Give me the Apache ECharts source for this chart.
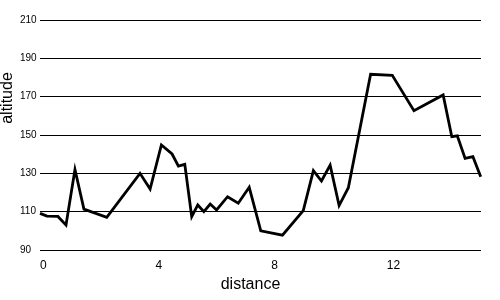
<!DOCTYPE html>
<html>
<head>
<meta charset="utf-8">
<script src="https://cdn.jsdelivr.net/npm/echarts@6/dist/echarts.min.js"></script>
<style>html,body{margin:0;padding:0;background:#fff}#c{width:500px;height:300px}</style>
</head>
<body>
<div id="c"></div>
<script>
var distance = [0, 0.24, 0.62, 0.90, 1.21, 1.52, 2.31, 3.46, 3.81, 4.20, 4.57, 4.79, 5.01, 5.25, 5.46, 5.67, 5.89, 6.11, 6.49, 6.86, 7.24, 7.64, 8.39, 9.11, 9.46, 9.74, 10.04, 10.35, 10.67, 11.44, 12.19, 12.94, 13.95, 14.25, 14.44, 14.71, 14.98, 15.25];
var altitude = [109.1, 107.7, 107.5, 103, 132, 111.3, 107.1, 130, 121.8, 144.8, 140.1, 133.8, 134.7, 107.4, 113.5, 110, 114, 110.9, 117.8, 114.4, 122.7, 100, 97.7, 110.5, 131.4, 126, 134.3, 113.2, 122.5, 181.7, 181.1, 162.7, 170.9, 149.1, 149.6, 137.8, 138.7, 128.2];
var xTicks = [0, 4, 8, 12];
var yTicks = [90, 110, 130, 150, 170, 190, 210];

var pts = distance.map(function (d, i) { return [d, altitude[i]]; });
var font = 'Liberation Sans, Arial, sans-serif';
var chart = echarts.init(document.getElementById('c'), null, {renderer: 'canvas'});
chart.setOption({
  animation: false,
  backgroundColor: '#fff',
  grid: {left: 40, right: 19, top: 20, bottom: 50, containLabel: false, outerBoundsMode: 'none'},
  xAxis: {
    type: 'value',
    min: 0,
    max: 15.26,
    interval: 4,
    name: 'distance',
    nameLocation: 'middle',
    nameGap: 27,
    nameMoveOverlap: false,
    nameTextStyle: {fontFamily: font, fontSize: 16, color: '#000', padding: [0, 20, 0, 0]},
    axisLine: {show: false},
    axisTick: {show: false},
    splitLine: {show: false},
    axisLabel: {
      fontFamily: font, fontSize: 12, color: '#000', margin: 10,
      showMaxLabel: false,
      align: 'left',
      formatter: function (v) { return xTicks.indexOf(v) >= 0 ? String(v) : ''; }
    }
  },
  yAxis: {
    type: 'value',
    min: yTicks[0],
    max: yTicks[yTicks.length - 1],
    interval: 20,
    name: 'altitude',
    nameLocation: 'middle',
    nameRotate: 90,
    nameGap: 24,
    nameMoveOverlap: false,
    nameTextStyle: {fontFamily: font, fontSize: 16, color: '#000', padding: [0, 0, 0, 74]},
    axisLine: {show: false},
    axisTick: {show: false},
    splitLine: {show: true, lineStyle: {color: '#000', width: 1}},
    axisLabel: {
      fontFamily: font, fontSize: 10, color: '#000', margin: 20, align: 'left',
      verticalAlign: 'middle', padding: [0, 0, 5, 0]
    }
  },
  series: [{
    type: 'line',
    data: pts,
    symbol: 'none',
    lineStyle: {color: '#000', width: 2.8, join: 'miter'},
    itemStyle: {color: '#000'}
  }]
});
</script>
</body>
</html>
